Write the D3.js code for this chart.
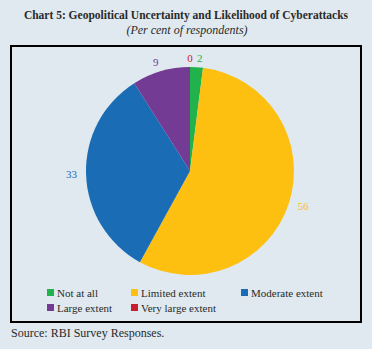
<!DOCTYPE html>
<html>
<head>
<meta charset="utf-8">
<script src="https://cdn.jsdelivr.net/npm/d3@7"></script>
<style>
  body { margin: 0; background: #dfe9ef; }
  svg { display: block; }
  text { font-family: "Liberation Serif", "DejaVu Serif", serif; }
</style>
</head>
<body>
<div id="vis"></div>
<script>
// data
const categories = ["Not at all", "Limited extent", "Moderate extent", "Large extent", "Very large extent"];
const values = [2, 56, 33, 9, 0];
const colors = ["#22b24c", "#fdc010", "#1a6db5", "#733b93", "#c81e2e"];

const W = 372, H = 349;
const cx = 190, cy = 171, radius = 104;

const svg = d3.select('#vis')
  .append('svg')
  .attr('width', W)
  .attr('height', H);

svg.append('rect')
  .attr('width', W).attr('height', H)
  .attr('fill', '#dfe9ef');

// title
svg.append('text')
  .attr('x', 186).attr('y', 19)
  .attr('text-anchor', 'middle')
  .attr('font-size', 11.5)
  .attr('font-weight', 'bold')
  .attr('fill', '#2a2a2a')
  .text('Chart 5: Geopolitical Uncertainty and Likelihood of Cyberattacks');

svg.append('text')
  .attr('x', 187).attr('y', 34)
  .attr('text-anchor', 'middle')
  .attr('font-size', 12)
  .attr('font-style', 'italic')
  .attr('fill', '#2a2a2a')
  .text('(Per cent of respondents)');

// frame
svg.append('rect')
  .attr('x', 11).attr('y', 46)
  .attr('width', 350).attr('height', 276)
  .attr('fill', 'none')
  .attr('stroke', '#000')
  .attr('stroke-width', 2);

// pie
const pie = d3.pie().sort(null).value(d => d.value);
const arc = d3.arc().innerRadius(0).outerRadius(radius);
const labelArc = d3.arc().innerRadius(radius + 9).outerRadius(radius + 9);

const data = categories.map((c, i) => ({ name: c, value: values[i], color: colors[i] }));
const arcs = pie(data);

const g = svg.append('g').attr('transform', `translate(${cx},${cy})`);

g.selectAll('path.slice')
  .data(arcs)
  .join('path')
  .attr('class', 'slice')
  .attr('d', arc)
  .attr('fill', d => d.data.color);

g.selectAll('text.lbl')
  .data(arcs)
  .join('text')
  .attr('class', 'lbl')
  .attr('font-size', 11)
  .attr('fill', d => d.data.color)
  .attr('dy', '0.35em')
  .attr('text-anchor', d => {
    const a = (d.startAngle + d.endAngle) / 2;
    const s = Math.sin(a);
    if (Math.abs(s) < 0.02) return 'middle';
    return s > 0 ? 'start' : 'end';
  })
  .attr('transform', d => `translate(${labelArc.centroid(d)})`)
  .text(d => d.data.value);

// legend
const legendPos = [[47, 293], [131, 293], [241, 293], [47, 308], [131, 308]];
const legend = svg.append('g');
const items = legend.selectAll('g')
  .data(data)
  .join('g')
  .attr('transform', (d, i) => `translate(${legendPos[i][0]},${legendPos[i][1]})`);

items.append('rect')
  .attr('x', 0).attr('y', -4)
  .attr('width', 7).attr('height', 7)
  .attr('fill', d => d.color);

items.append('text')
  .attr('x', 10).attr('y', 0)
  .attr('dy', '0.35em')
  .attr('font-size', 11)
  .attr('fill', '#2a2a2a')
  .text(d => d.name);

// source
svg.append('text')
  .attr('x', 11).attr('y', 337)
  .attr('font-size', 12)
  .attr('fill', '#2a2a2a')
  .text('Source: RBI Survey Responses.');
</script>
</body>
</html>
